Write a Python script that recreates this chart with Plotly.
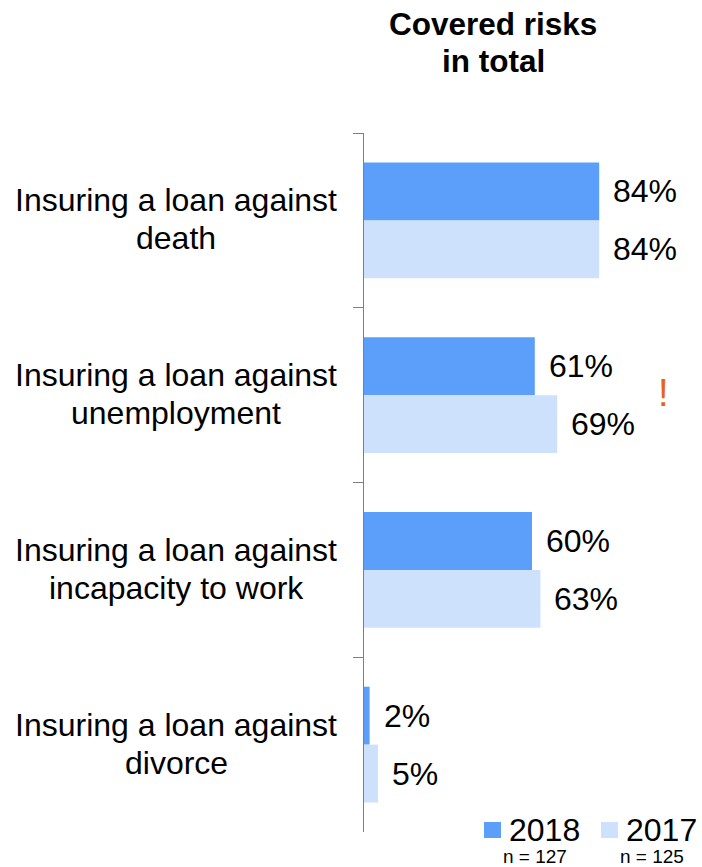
import plotly.graph_objects as go

# Survey data: share of respondents whose loan insurance covers each risk
categories = [
    "Insuring a loan against<br>death",
    "Insuring a loan against<br>unemployment",
    "Insuring a loan against<br>incapacity to work",
    "Insuring a loan against<br>divorce",
]
values_2018 = [84, 61, 60, 2]
values_2017 = [84, 69, 63, 5]
series_names = ["2018", "2017"]
sample_sizes = ["n = 127", "n = 125"]
colors = ["#5B9FFA", "#CDE1FD"]
title_lines = ["Covered risks", "in total"]

FONT = "Liberation Sans, Arial, sans-serif"
W, H = 702, 867
L, R, T, B = 364, 58, 133, 35
LINE_GAP = 38  # distance between baselines of two-line labels

fig = go.Figure()
for name, vals, col in zip(series_names, [values_2018, values_2017], colors):
    fig.add_trace(go.Bar(
        y=categories, x=vals, orientation="h", name=name,
        marker=dict(color=col, line=dict(width=0)),
        showlegend=False, hoverinfo="skip",
    ))

annotations = []
# value labels to the right of each bar
bar_px = (1 - 0.337) * (H - T - B) / len(categories) / 2
for k, vals in enumerate([values_2018, values_2017]):
    shift = bar_px / 2 if k == 0 else -bar_px / 2
    for cat, v in zip(categories, vals):
        annotations.append(dict(
            x=v, y=cat, xref="x", yref="y", text=f"{v}%", showarrow=False,
            xanchor="left", yanchor="middle", xshift=12, yshift=shift,
            font=dict(family=FONT, size=32, color="#000000"),
        ))

# category labels: two centered lines to the left of the axis
pw, ph = W - L - R, H - T - B
label_center_x = (176 - L) / pw
for cat in categories:
    lines = cat.split("<br>")
    for j, line in enumerate(lines):
        offset = (j - (len(lines) - 1) / 2) * LINE_GAP
        annotations.append(dict(
            x=label_center_x, y=cat, xref="paper", yref="y", text=line,
            showarrow=False, xanchor="center", yanchor="middle",
            yshift=-offset + 1,
            font=dict(family=FONT, size=32, color="#000000"),
        ))

def px_x(p):
    return (p - L) / pw
def px_y(p):
    return (H - B - p) / ph

# column heading
for j, line in enumerate(title_lines):
    annotations.append(dict(
        x=px_x(493), y=px_y(24 + j * 37), xref="paper", yref="paper",
        text=f"<b>{line}</b>", showarrow=False,
        xanchor="center", yanchor="middle",
        font=dict(family=FONT, size=31.5, color="#000000"),
    ))

# significance marker next to unemployment
annotations.append(dict(
    x=px_x(663), y=px_y(393), xref="paper", yref="paper", text="!",
    showarrow=False, xanchor="center", yanchor="middle",
    font=dict(family=FONT, size=38, color="#E8650E"),
))

# legend: swatch, year and sample size
shapes = []
legend_x = [484, 601]
for lx, name, n, col in zip(legend_x, series_names, sample_sizes, colors):
    shapes.append(dict(
        type="rect", xref="paper", yref="paper",
        x0=px_x(lx), x1=px_x(lx + 17), y0=px_y(838), y1=px_y(822),
        fillcolor=col, line=dict(width=0),
    ))
    annotations.append(dict(
        x=px_x(lx + 23), y=px_y(830), xref="paper", yref="paper", text=name,
        showarrow=False, xanchor="left", yanchor="middle",
        font=dict(family=FONT, size=32, color="#000000"),
    ))
    annotations.append(dict(
        x=px_x(lx + 51), y=px_y(856), xref="paper", yref="paper", text=n,
        showarrow=False, xanchor="center", yanchor="middle",
        font=dict(family=FONT, size=19, color="#000000"),
    ))

fig.update_layout(
    width=W, height=H,
    margin=dict(l=L, r=R, t=T, b=B, pad=0),
    paper_bgcolor="white", plot_bgcolor="white",
    barmode="group", bargap=0.337, bargroupgap=0,
    font=dict(family=FONT),
    annotations=annotations, shapes=shapes,
    xaxis=dict(range=[0, 100], visible=False, fixedrange=True),
    yaxis=dict(
        categoryorder="array", categoryarray=categories,
        autorange="reversed", showticklabels=False,
        showline=True, linecolor="#7F7F7F", linewidth=1.3,
        ticks="outside", ticklen=10, tickcolor="#7F7F7F", tickwidth=1.3,
        tickson="boundaries", showgrid=False, zeroline=False,
    ),
)

fig.write_html("out.html")
